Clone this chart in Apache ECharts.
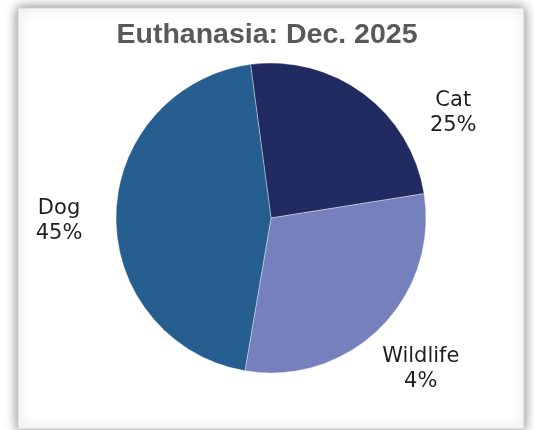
<!DOCTYPE html>
<html>
<head>
<meta charset="utf-8">
<script src="https://cdn.jsdelivr.net/npm/echarts@6/dist/echarts.min.js"></script>
<style>
html,body{margin:0;padding:0;background:#ffffff;}
#chart{width:534px;height:430px;}
</style>
</head>
<body>
<div id="chart"></div>
<script>
// Data
const titleText = "Euthanasia: Dec. 2025";
const categories = ["Cat", "Wildlife", "Dog"];
const values = [24.6, 30.2, 45.2];           // slice sizes as drawn
const percentLabels = ["25%", "4%", "45%"];   // label texts as printed
const colors = ["#222B61", "#7680BD", "#255E8F"];

const chart = echarts.init(document.getElementById('chart'), null, {renderer: 'canvas'});

const labelOffsets = [[55, 66], [0, 0], [1, 7]];

const pieData = categories.map((c, i) => ({
  name: c, value: values[i], itemStyle: {color: colors[i]}
}));
const labelData = categories.map((c, i) => ({
  name: c, value: values[i],
  label: {offset: labelOffsets[i]}
}));

const center = [271, 218];
const startAngle = 97.6;

chart.setOption({
  animation: false,
  backgroundColor: '#ffffff',
  graphic: [{
    type: 'rect', z: -10, silent: true,
    shape: {x: 18, y: 8, width: 506, height: 421},
    style: {fill: '#ffffff', stroke: '#d0d0d0', lineWidth: 1,
            shadowBlur: 11, shadowColor: 'rgba(0,0,0,0.5)'}
  }],
  title: {
    text: titleText,
    left: 'center',
    top: 16,
    textStyle: {fontFamily: 'Liberation Sans', fontWeight: 'bold', fontSize: 28.5, color: '#595959'}
  },
  series: [{
    type: 'pie',
    center: center,
    radius: [0, 155],
    startAngle: startAngle,
    clockwise: true,
    silent: true,
    label: {show: false},
    labelLine: {show: false},
    itemStyle: {borderColor: 'rgba(255,255,255,0.6)', borderWidth: 0.6},
    emphasis: {disabled: true},
    data: pieData
  }, {
    type: 'pie',
    center: center,
    radius: [200, 220],
    startAngle: startAngle,
    clockwise: true,
    silent: true,
    itemStyle: {color: 'rgba(0,0,0,0)'},
    emphasis: {disabled: true},
    labelLine: {show: false},
    label: {
      show: true,
      position: 'inside',
      formatter: p => p.name + '\n' + percentLabels[p.dataIndex],
      fontFamily: 'DejaVu Sans',
      fontSize: 21,
      lineHeight: 25,
      color: '#1f1f1f',
      align: 'center'
    },
    data: labelData
  }]
});
</script>
</body>
</html>
